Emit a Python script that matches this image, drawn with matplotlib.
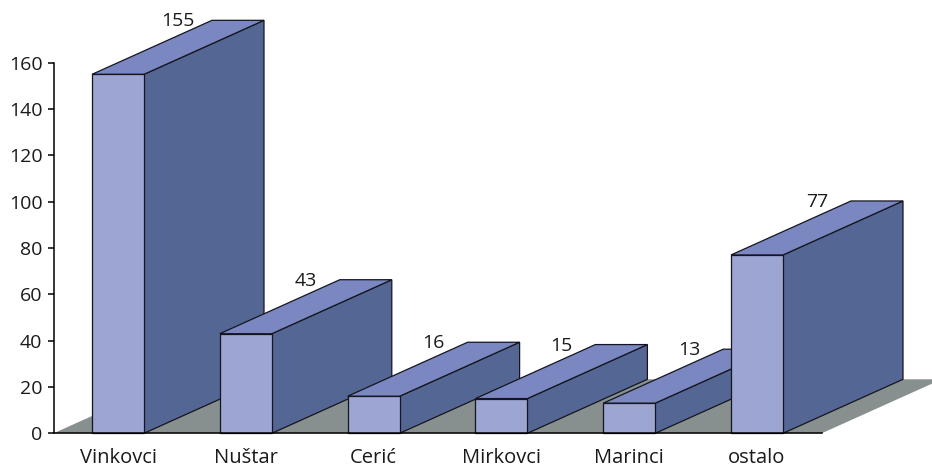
import numpy as np
import matplotlib
matplotlib.use("Agg")
import matplotlib.pyplot as plt
from matplotlib.patches import Polygon

mjesta = ["Vinkovci", "Nuštar", "Cerić", "Mirkovci", "Marinci", "ostalo"]
vrijednosti = [155, 43, 16, 15, 13, 77]
y_ticks = [0, 20, 40, 60, 80, 100, 120, 140, 160]

plt.rcParams['font.family'] = ['Open Sans', 'DejaVu Sans']

W, H = 932, 467
# pixel scale of the axes
px_cat = 127.8
px_val = 2.316
x0_px = 118.0
y0_px = 433.3

fig = plt.figure(figsize=(W / 100, H / 100), dpi=100)
ax = fig.add_axes([0, 0, 1, 1])
ax.set_xlim((0 - x0_px) / px_cat, (W - x0_px) / px_cat)
ax.set_ylim((y0_px - H) / px_val, y0_px / px_val)

# depth of the fake 3d
dx = 120 / px_cat
dy = 54 / px_val
hw = 26 / px_cat

lijevo = (53.6 - x0_px) / px_cat
desno = (821.7 - x0_px) / px_cat

# floor
ax.add_patch(Polygon([(lijevo, 0), (desno, 0), (desno + dx, dy), (lijevo + dx, dy)],
                     facecolor="#878f8f", edgecolor="none", zorder=1))

edge = "#15151f"
for i, v in enumerate(vrijednosti):
    z = 2 + i
    l, r = i - hw, i + hw
    ax.add_patch(Polygon([(r, 0), (r + dx, dy), (r + dx, v + dy), (r, v)],
                         facecolor="#546794", edgecolor=edge, lw=0.9, zorder=z))
    ax.add_patch(Polygon([(l, v), (r, v), (r + dx, v + dy), (l + dx, v + dy)],
                         facecolor="#7a87c0", edgecolor=edge, lw=0.9, zorder=z))
    ax.add_patch(Polygon([(l, 0), (r, 0), (r, v), (l, v)],
                         facecolor="#9da5d3", edgecolor=edge, lw=0.9, zorder=z))
    ax.text(i + 60 / px_cat, v + dy - 0.5, str(v), ha="center", va="center",
            fontsize=14, color="#1a1a1a", zorder=20)
    # category name, on a common baseline
    ax.text(i, -30 / px_val, mjesta[i], ha="center", va="baseline",
            fontsize=14.5, color="#1a1a1a", zorder=20)

for s in ["top", "right"]:
    ax.spines[s].set_visible(False)
ax.spines["left"].set_position(("data", lijevo))
ax.spines["left"].set_bounds(0, 160)
ax.spines["bottom"].set_position(("data", 0))
ax.spines["bottom"].set_bounds(lijevo, desno)
ax.spines["bottom"].set_zorder(15)
ax.spines["left"].set_linewidth(1.1)
ax.spines["bottom"].set_linewidth(1.1)

ax.set_yticks(y_ticks)
ax.tick_params(axis="y", length=4.5, width=1.1, pad=3.5, labelsize=14, labelcolor="#1a1a1a")
ax.set_xticks([])

fig.savefig("out.png", dpi=100)
